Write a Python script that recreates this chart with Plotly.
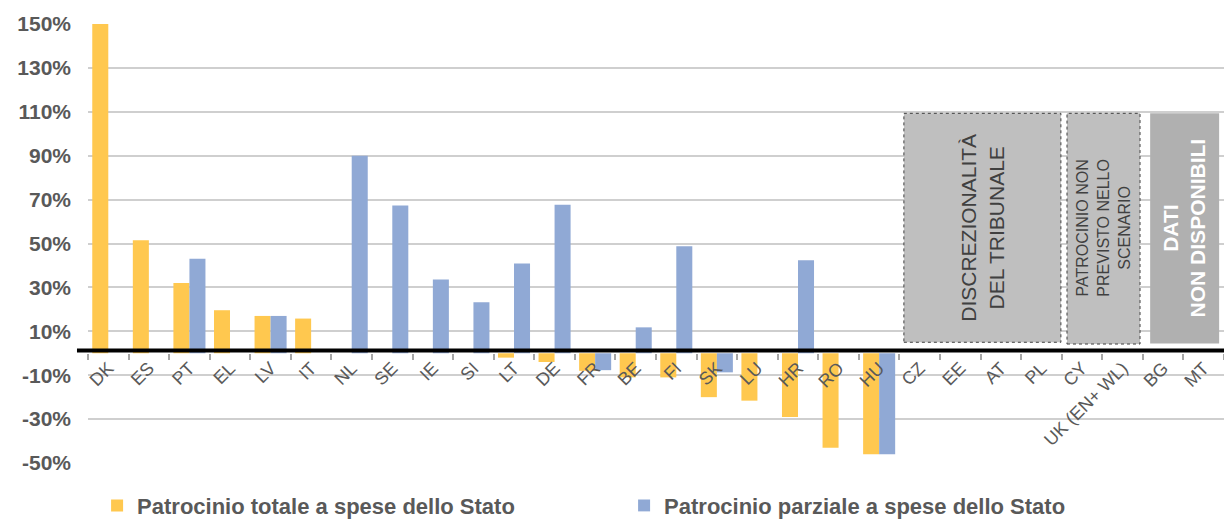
import plotly.graph_objects as go

categories = ["DK", "ES", "PT", "EL", "LV", "IT", "NL", "SE", "IE", "SI", "LT", "DE",
              "FR", "BE", "FI", "SK", "LU", "HR", "RO", "HU", "CZ", "EE", "AT", "PL",
              "CY", "UK (EN+ WL)", "BG", "MT"]

totale = [150, 51.5, 32, 19.6, 17, 15.8, None, None, None, None, -2, -4,
          -8, -11, -11, -20, -21.6, -29, -43, -46, None, None, None, None,
          None, None, None, None]

parziale = [None, None, 43, None, 17, None, 90, 67.3, 33.6, 23.2, 40.9, 67.7,
            -7.7, 11.8, 48.7, -8.7, None, 42.4, None, -46, None, None, None, None,
            None, None, None, None]

name_totale = "Patrocinio totale a spese dello Stato"
name_parziale = "Patrocinio parziale a spese dello Stato"

y_ticks = list(range(-50, 151, 20))
y_ticktext = [f"{v}%" for v in y_ticks]

FONT = "Liberation Sans, Arial, sans-serif"
YELLOW = "#FFC84F"
BLUE = "#90A9D5"

fig = go.Figure()
fig.add_trace(go.Bar(x=categories, y=totale, name=name_totale,
                     marker=dict(color=YELLOW, line=dict(width=0))))
fig.add_trace(go.Bar(x=categories, y=parziale, name=name_parziale,
                     marker=dict(color=BLUE, line=dict(width=0))))

shapes = [
    # thick zero line
    dict(type="line", xref="paper", yref="y", x0=-0.0097, x1=1, y0=1.2, y1=1.2,
         line=dict(color="black", width=4), layer="above"),
    # grey boxes
    dict(type="rect", xref="x", yref="y", x0=19.61, x1=23.48, y0=5, y1=109.3,
         fillcolor="#BFBFBF", line=dict(color="#404040", width=1, dash="dot"), layer="above"),
    dict(type="rect", xref="x", yref="y", x0=23.63, x1=25.43, y0=4.2, y1=109.3,
         fillcolor="#BFBFBF", line=dict(color="#404040", width=1, dash="dot"), layer="above"),
    dict(type="rect", xref="x", yref="y", x0=25.68, x1=27.38, y0=4.4, y1=109.3,
         fillcolor="#B0B0B0", line=dict(width=0), layer="above"),
]

annotations = [
    dict(x=21.55, y=57, xref="x", yref="y", text="DISCREZIONALITÀ<br>DEL TRIBUNALE",
         textangle=-90, showarrow=False, font=dict(family=FONT, size=21, color="#404040")),
    dict(x=24.53, y=57, xref="x", yref="y", text="PATROCINIO NON<br>PREVISTO NELLO<br>SCENARIO",
         textangle=-90, showarrow=False, font=dict(family=FONT, size=16, color="#404040")),
    dict(x=26.52, y=57, xref="x", yref="y", text="<b>DATI<br>NON DISPONIBILI</b>",
         textangle=-90, showarrow=False, font=dict(family=FONT, size=21, color="white")),
]

fig.update_layout(
    width=1224, height=521,
    margin=dict(l=88, r=0, t=24, b=58, autoexpand=False),
    plot_bgcolor="white", paper_bgcolor="white",
    barmode="group", bargap=0.21, bargroupgap=0,
    shapes=shapes, annotations=annotations,
    font=dict(family=FONT, color="#595959"),
    legend=dict(orientation="h", x=0.008, xanchor="left", y=-0.097, yanchor="middle",
                font=dict(family=FONT, size=22, color="#595959", weight="bold"),
                entrywidth=482, entrywidthmode="pixels", bgcolor="rgba(0,0,0,0)"),
    xaxis=dict(type="category", anchor="free", position=0.25, showgrid=False,
               zeroline=False, showline=False, ticks="outside", ticklen=6,
               tickcolor="#A6A6A6", tickwidth=1.5, tickson="boundaries",
               tickangle=-45, tickfont=dict(family=FONT, size=18, color="#595959"),
               range=[-0.5, 27.5], fixedrange=True),
    yaxis=dict(range=[-50, 150], tickmode="array", tickvals=y_ticks, ticktext=y_ticktext,
               showgrid=True, gridcolor="#CFCFCF", gridwidth=1.5, zeroline=False,
               showline=False, ticks="", ticklabelstandoff=16,
               tickfont=dict(family=FONT, size=21, color="#595959", weight="bold")),
)

fig.write_html("out.html", config={"displayModeBar": False},
               post_script="document.body.style.margin='0';document.body.style.overflow='hidden';")
